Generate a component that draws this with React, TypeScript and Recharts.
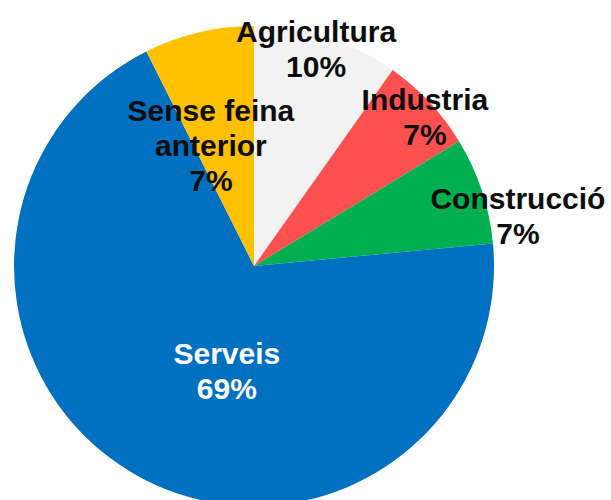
import { PieChart, Pie, Cell } from 'recharts';

const categories = ['Agricultura', 'Industria', 'Construcció', 'Serveis', 'Sense feina anterior'];
const shares = [9.8, 6.5, 7.2, 69.1, 7.4];
const shareLabels = ['10%', '7%', '7%', '69%', '7%'];
const colors = ['#f2f2f2', '#ff5050', '#00b050', '#0070c0', '#ffc000'];

// label lines per slice (Excel wraps the long one)
const labelLines = [['Agricultura'], ['Industria'], ['Construcció'], ['Serveis'], ['Sense feina', 'anterior']];
// where each label sits: angle from 12 o'clock (clockwise, deg) and fraction of radius
const labelAngle = [15.9, 48.9, 79.1, 194.6, 340.4];
const labelRadius = [0.944, 0.945, 1.12, 0.448, 0.535];

const data = categories.map((name, i) => ({ name, value: shares[i] }));

const LINE_H = 35;

function renderLabel(props: any) {
  const { cx, cy, outerRadius, index } = props;
  const a = (labelAngle[index] * Math.PI) / 180;
  const r = outerRadius * labelRadius[index];
  const x = cx + r * Math.sin(a);
  const y = cy - r * Math.cos(a);
  const lines = [...labelLines[index], shareLabels[index]];
  const top = y - ((lines.length - 1) * LINE_H) / 2;
  return (
    <text
      key={index}
      x={x}
      y={top}
      textAnchor="middle"
      dominantBaseline="central"
      fontFamily="'Liberation Sans', Arial, sans-serif"
      fontWeight="bold"
      fontSize={30}
      fill={index === 3 ? '#ffffff' : '#0d0d0d'}
    >
      {lines.map((l, i) => (
        <tspan key={i} x={x} y={top + i * LINE_H} dominantBaseline="central">
          {l}
        </tspan>
      ))}
    </text>
  );
}

export default function App() {
  return (
    <div style={{ position: 'absolute', left: 0, top: 0, width: 611, height: 500, background: '#fff' }}>
      <PieChart width={611} height={500} margin={{ top: 0, right: 0, bottom: 0, left: 0 }}>
        <Pie
          data={data}
          dataKey="value"
          nameKey="name"
          cx={254}
          cy={266}
          outerRadius={240}
          startAngle={90}
          endAngle={-270}
          stroke="none"
          labelLine={false}
          label={renderLabel}
          isAnimationActive={false}
        >
          {data.map((d, i) => (
            <Cell key={d.name} fill={colors[i]} />
          ))}
        </Pie>
      </PieChart>
    </div>
  );
}
